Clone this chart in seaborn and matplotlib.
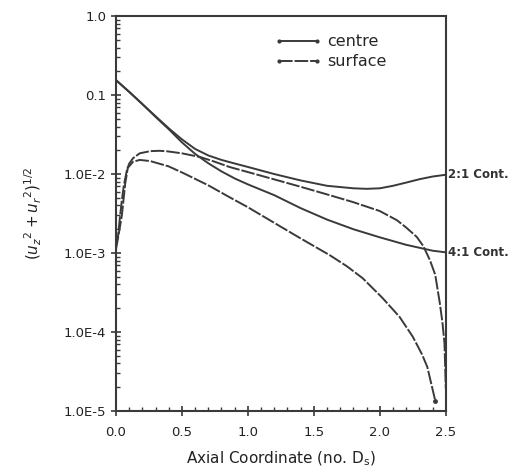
import numpy as np
import pandas as pd
import matplotlib
matplotlib.use("Agg")
import matplotlib.pyplot as plt
import matplotlib.transforms as mtransforms
from matplotlib.lines import Line2D
from matplotlib.ticker import LogLocator, FixedLocator, MultipleLocator, NullFormatter
import seaborn as sns

# ---- data ----
x_c21 = [0.0, 0.1, 0.2, 0.3, 0.4, 0.5, 0.6, 0.7, 0.8, 0.9, 1.0, 1.2, 1.4, 1.6, 1.8, 1.9,
         2.0, 2.1, 2.2, 2.3, 2.4, 2.5]
y_c21 = [0.155, 0.110, 0.077, 0.054, 0.038, 0.0275, 0.0208, 0.0172, 0.0151, 0.0136, 0.0123,
         0.0100, 0.0083, 0.0071, 0.0066, 0.0065, 0.0066, 0.0071, 0.0078, 0.0086, 0.0093, 0.0098]

x_c41 = [0.0, 0.1, 0.2, 0.3, 0.4, 0.5, 0.6, 0.7, 0.8, 0.9, 1.0, 1.2, 1.4, 1.6, 1.8,
         2.0, 2.2, 2.4, 2.5]
y_c41 = [0.155, 0.110, 0.077, 0.053, 0.037, 0.0252, 0.0180, 0.0137, 0.0108, 0.0088, 0.0074,
         0.0054, 0.0037, 0.00265, 0.0020, 0.00158, 0.00127, 0.00107, 0.00102]

x_s21 = [0.0, 0.015, 0.03, 0.045, 0.06, 0.083, 0.1, 0.13, 0.18, 0.26, 0.33, 0.39, 0.5, 0.64,
         0.75, 0.86, 1.0, 1.24, 1.4, 1.62, 1.8, 2.0, 2.13, 2.2, 2.28, 2.33, 2.38, 2.42,
         2.455, 2.475, 2.49, 2.5]
y_s21 = [0.00126, 0.0016, 0.0028, 0.0047, 0.0072, 0.0112, 0.0135, 0.0159, 0.0183, 0.0195,
         0.0197, 0.0194, 0.0183, 0.0164, 0.0143, 0.0123, 0.0106, 0.0082, 0.0069, 0.0054,
         0.0044, 0.0034, 0.0026, 0.0021, 0.0016, 0.00122, 0.00081, 0.00053, 0.00023,
         0.00013, 0.000072, 0.000019]

x_s41 = [0.0, 0.02, 0.045, 0.07, 0.09, 0.13, 0.18, 0.26, 0.4, 0.51, 0.7, 0.86, 1.0, 1.24,
         1.4, 1.62, 1.75, 1.87, 2.02, 2.15, 2.25, 2.32, 2.36, 2.42]
y_s41 = [0.0011, 0.0017, 0.0030, 0.0075, 0.0120, 0.0143, 0.0151, 0.0146, 0.0125, 0.0103,
         0.0072, 0.0051, 0.0038, 0.0022, 0.00153, 0.00094, 0.00068, 0.00048, 0.00027,
         0.000155, 0.000087, 0.000052, 0.000036, 0.0000135]

y_ticks = [1.0, 0.1, 1e-2, 1e-3, 1e-4, 1e-5]
y_ticklabels = ["1.0", "0.1", "1.0E-2", "1.0E-3", "1.0E-4", "1.0E-5"]
x_ticks = [0.0, 0.5, 1.0, 1.5, 2.0, 2.5]
x_ticklabels = ["0.0", "0.5", "1.0", "1.5", "2.0", "2.5"]
end_labels = ["2:1 Cont.", "4:1 Cont."]

frames = []
for name, xs, ys in [("c21", x_c21, y_c21), ("c41", x_c41, y_c41),
                     ("s21", x_s21, y_s21), ("s41", x_s41, y_s41)]:
    frames.append(pd.DataFrame({"x": xs, "y": ys, "curve": name}))
df = pd.concat(frames, ignore_index=True)

sns.set_theme(style="ticks")
plt.rcParams['font.family'] = ['DejaVu Sans']

fig = plt.figure(figsize=(5.13, 4.74), dpi=100)
ax = fig.add_axes([0.226, 0.133, 0.643, 0.833])

col = "#3a3a3a"
for name in ["c21", "c41"]:
    sns.lineplot(data=df[df.curve == name], x="x", y="y", ax=ax, color=col,
                 linewidth=1.4, sort=False, estimator=None)
for name in ["s21", "s41"]:
    sns.lineplot(data=df[df.curve == name], x="x", y="y", ax=ax, color=col,
                 linewidth=1.4, sort=False, estimator=None)
    ax.lines[-1].set_dashes([7, 1])

ax.plot([x_s41[-1]], [y_s41[-1]], 'o', color=col, markersize=2.5)

ax.set_yscale("log")
ax.set_ylim(1e-5, 1.0)
ax.set_xlim(0.0, 2.5)
ax.yaxis.set_major_locator(FixedLocator(y_ticks))
ax.set_yticklabels(y_ticklabels)
ax.yaxis.set_minor_locator(LogLocator(base=10, subs=np.arange(2, 10)))
ax.yaxis.set_minor_formatter(NullFormatter())
ax.xaxis.set_major_locator(FixedLocator(x_ticks))
ax.set_xticklabels(x_ticklabels)
ax.xaxis.set_minor_locator(MultipleLocator(0.1))

ax.tick_params(axis='both', which='major', direction='inout', length=7, width=1.2,
               labelsize=9.5, colors=col, labelcolor='#222222')
ax.tick_params(axis='both', which='minor', direction='in', length=3, width=1.0, colors=col)
ax.tick_params(axis='x', which='major', pad=7)

for s in ax.spines.values():
    s.set_linewidth(1.5)
    s.set_color(col)
    s.set_visible(True)

ax.set_xlabel(r"Axial Coordinate (no. D$_\mathrm{s}$)", fontsize=11, color='#222222', labelpad=8)
ax.set_ylabel(r"$(u_z{}^2 + u_r{}^2)^{1/2}$", fontsize=11, color='#222222', labelpad=14)

trans = mtransforms.blended_transform_factory(ax.transAxes, ax.transData)
ax.text(1.008, y_c21[-1], end_labels[0], transform=trans, fontsize=8.5,
        fontweight='bold', color='#333333', va='center', ha='left', clip_on=False)
ax.text(1.008, y_c41[-1], end_labels[1], transform=trans, fontsize=8.5,
        fontweight='bold', color='#333333', va='center', ha='left', clip_on=False)

handles = [
    Line2D([0], [0], color=col, linewidth=1.4, marker='.', markersize=4),
    Line2D([0], [0], color=col, linewidth=1.4, dashes=[7, 1], marker='.', markersize=4),
]
ax.legend(handles, ["centre", "surface"], loc='upper left', bbox_to_anchor=(0.46, 0.97),
          frameon=False, fontsize=11.5, numpoints=2, handlelength=3.0, handletextpad=0.3,
          labelspacing=0.3, borderaxespad=0)

fig.savefig("out.png", dpi=100)
